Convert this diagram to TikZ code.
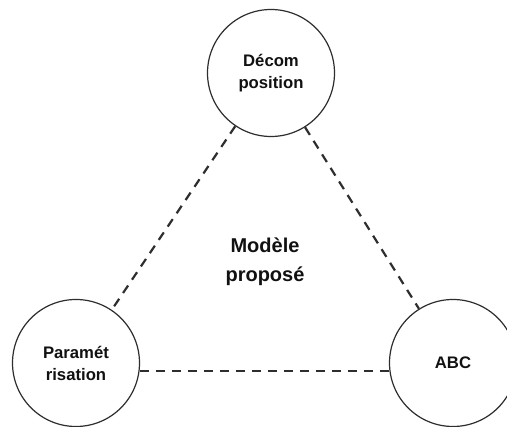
\documentclass[tikz,border=0pt]{standalone}
\usepackage{fontspec}
\setmainfont{Liberation Sans}
\definecolor{linegray}{HTML}{2E2E2E}
\definecolor{textblack}{HTML}{111111}
\begin{document}
\begin{tikzpicture}[x=1pt,y=-1pt,
  bubble/.style={circle,draw=linegray,line width=1.2pt,minimum size=127pt,inner sep=0pt,
    align=center,text=textblack,font=\bfseries\fontsize{16.7}{22}\selectfont},
  title/.style={align=center,text=textblack,font=\bfseries\fontsize{20}{29}\selectfont},
  dashline/.style={draw=linegray,line width=2.2pt,dash pattern=on 9pt off 7pt}]
\clip (0,0) rectangle (507,427);
\fill[white] (0,0) rectangle (507,427);
\node[bubble] (dec) at (271,73) {Décom\\position};
\node[bubble] (par) at (76,363) {Paramét\\risation};
\node[bubble] (abc) at (453,363) {ABC};
\node[title] (mod) at (265,262) {Modèle\\proposé};
\draw[dashline] (dec) -- (par);
\draw[dashline] (dec) -- (abc);
\draw[dashline] (par.-7) -- (abc.187);
\end{tikzpicture}
\end{document}
